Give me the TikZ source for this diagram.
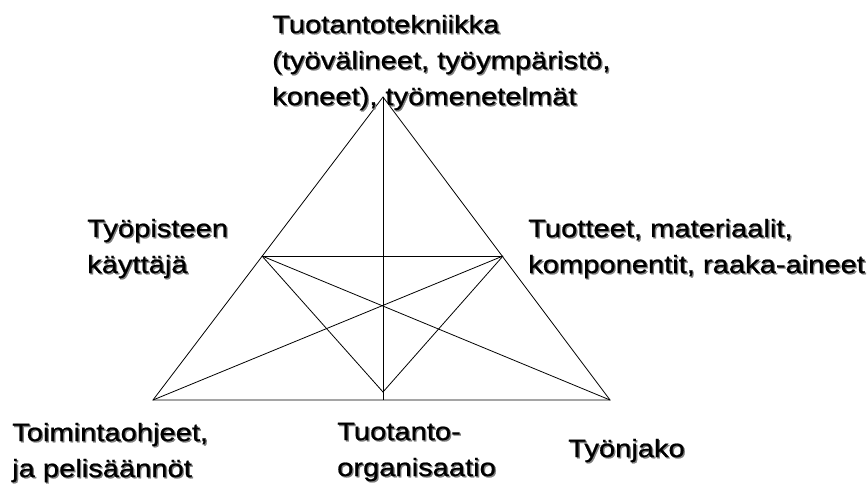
\documentclass[tikz,border=0pt]{standalone}
\usepackage{fontspec}
\setmainfont[FakeStretch=1.165,FakeBold=0.8]{Liberation Sans}
\definecolor{shadowgray}{RGB}{128,128,128}
\tikzset{
  lbl/.style={anchor=base west, inner sep=0pt, align=left,
    font=\fontsize{25}{36}\selectfont},
  edge/.style={draw=black, line width=0.8pt}
}
% text with a soft grey drop shadow: name, x, baseline of last line, text
\newcommand\shadowlabel[4]{%
  \node[lbl, text=shadowgray] at (#2+1.3,#3+1.3) {#4};
  \node[lbl] (#1) at (#2,#3) {#4};
}
\begin{document}
\begin{tikzpicture}[x=1pt,y=-1pt]
\useasboundingbox (0,0) rectangle (867,486);

% triangle corners and inner points
\coordinate (A) at (383,97);
\coordinate (L) at (153,400);
\coordinate (R) at (610,400);
\coordinate (M) at (383,400);
\coordinate (P) at (262,256);
\coordinate (Q) at (503,256);
\coordinate (O) at (383,392);

\draw[edge] (A) -- (L) -- (R) -- cycle;
\draw[edge] (A) -- (M);
\draw[edge] (P) -- (Q);
\draw[edge] (P) -- (R);
\draw[edge] (Q) -- (L);
\draw[edge] (P) -- (O) -- (Q);

% labels
\shadowlabel{tech}{272}{105}{Tuotantotekniikka\\(työvälineet, työympäristö,\\koneet), työmenetelmät}
\shadowlabel{user}{87}{273}{Työpisteen\\käyttäjä}
\shadowlabel{prod}{528}{273}{Tuotteet, materiaalit,\\komponentit, raaka-aineet}
\shadowlabel{rules}{12}{477}{Toimintaohjeet,\\ja pelisäännöt}
\shadowlabel{org}{337}{476}{Tuotanto-\\organisaatio}
\shadowlabel{div}{568}{457}{Työnjako}
\end{tikzpicture}
\end{document}
